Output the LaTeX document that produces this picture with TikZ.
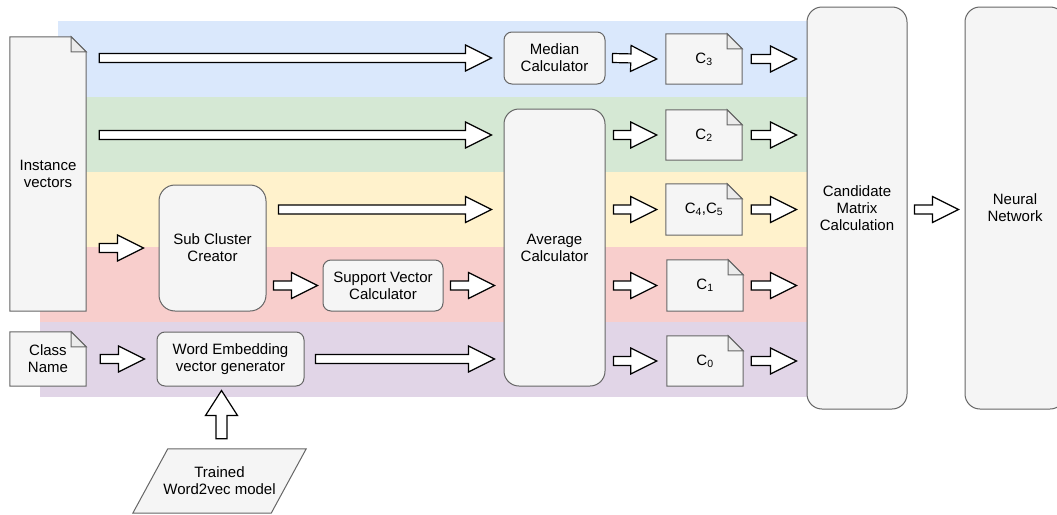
\documentclass[tikz,border=0pt]{standalone}
\usepackage{fontspec}
\setmainfont{Liberation Sans}
\usetikzlibrary{calc}
\definecolor{bandblue}{HTML}{DAE8FC}
\definecolor{bandgreen}{HTML}{D5E8D4}
\definecolor{bandyellow}{HTML}{FFF2CC}
\definecolor{bandred}{HTML}{F8CECC}
\definecolor{bandpurple}{HTML}{E1D5E7}
\definecolor{boxfill}{HTML}{F5F5F5}
\definecolor{boxline}{HTML}{666666}
\definecolor{foldfill}{HTML}{EBEBEB}
\pgfdeclarelayer{bands}
\pgfdeclarelayer{bg}
\pgfsetlayers{bands,bg,main}
\tikzset{
  box/.style={draw=boxline, fill=boxfill, line width=1pt},
  rbox/.style={box, rounded corners=#1},
  txt/.style={inner sep=0pt, align=center},
  flex/.style={draw=black, fill=white, line width=1.2pt, line join=miter},
}
\newcommand\faw{4.5pt}
\newcommand\fah{13pt}
\newcommand\fal{26pt}
\newcommand\farrow[2]{%
  \coordinate (fas) at (#1);
  \coordinate (fae) at (#2);
  \coordinate (fac) at ($(fae)!\fal!(fas)$);
  \filldraw[flex] ($(fas)!\faw!90:(fae)$) -- ($(fac)!\faw!90:(fae)$)
    -- ($(fac)!\fah!90:(fae)$) -- (fae) -- ($(fac)!\fah!-90:(fae)$)
    -- ($(fac)!\faw!-90:(fae)$) -- ($(fas)!\faw!-90:(fae)$) -- cycle;}
\newcommand\docoutline[1]{%
  \begin{pgfonlayer}{bg}
  \filldraw[box] (#1.north west) -- ($(#1.north east)+(-15,0)$)
    -- ($(#1.north east)+(0,15)$) -- (#1.south east) -- (#1.south west) -- cycle;
  \filldraw[box, fill=foldfill] ($(#1.north east)+(-15,0)$) -- ($(#1.north east)+(-15,15)$)
    -- ($(#1.north east)+(0,15)$) -- cycle;
  \end{pgfonlayer}}
\begin{document}
\begin{tikzpicture}[x=1pt, y=-1pt, font=\fontsize{15}{17}\selectfont]
\useasboundingbox (0,0) rectangle (1057,514);
\clip (0,0) rectangle (1057,514);
\begin{pgfonlayer}{bands}
  \fill[white] (0,0) rectangle (1057,514);
  \fill[bandblue]   (58,21)  rectangle (810,97);
  \fill[bandgreen]  (40,97)  rectangle (810,172);
  \fill[bandyellow] (40,172) rectangle (810,247);
  \fill[bandred]    (40,247) rectangle (810,322);
  \fill[bandpurple] (40,322) rectangle (810,397);
\end{pgfonlayer}

% document shapes
\node[txt, minimum width=76pt, minimum height=274pt] (iv) at (48,174) {Instance\\vectors};
\docoutline{iv}
\node[txt, minimum width=76pt, minimum height=54pt] (cn) at (48,359) {Class\\Name};
\docoutline{cn}
\node[txt, minimum width=76pt, minimum height=50pt] (c3) at (704,59) {C\textsubscript{3}};
\docoutline{c3}
\node[txt, minimum width=76pt, minimum height=50pt] (c2) at (704,135) {C\textsubscript{2}};
\docoutline{c2}
\node[txt, minimum width=76pt, minimum height=51pt] (c45) at (704,209.5) {C\textsubscript{4},C\textsubscript{5}};
\docoutline{c45}
\node[txt, minimum width=76pt, minimum height=51pt] (c1) at (705,285.5) {C\textsubscript{1}};
\docoutline{c1}
\node[txt, minimum width=76pt, minimum height=50pt] (c0) at (705,361) {C\textsubscript{0}};
\docoutline{c0}

% rounded boxes
\node[rbox=16pt, txt, minimum width=107pt, minimum height=126pt] (sc) at (212.5,248) {Sub Cluster\\Creator};
\node[rbox=8pt, txt, minimum width=147pt, minimum height=54pt] (we) at (230.5,359) {Word Embedding\\vector generator};
\node[rbox=8pt, txt, minimum width=120pt, minimum height=51pt] (svc) at (383,285.5) {Support Vector\\Calculator};
\node[rbox=8pt, txt, minimum width=101pt, minimum height=52pt] (med) at (554.5,58) {Median\\Calculator};
\node[rbox=15pt, txt, minimum width=101pt, minimum height=277pt] (avg) at (554.5,247.5) {Average\\Calculator};
\node[rbox=15pt, txt, minimum width=100pt, minimum height=402pt] (cmc) at (857,208) {Candidate\\Matrix\\Calculation};
\node[rbox=15pt, txt, minimum width=100pt, minimum height=402pt] (nn) at (1015,208) {Neural\\Network};

% parallelogram
\node[txt, minimum width=173pt, minimum height=64pt] (tw) at (219.5,481) {Trained\\Word2vec model};
\begin{pgfonlayer}{bg}
  \filldraw[box] ($(tw.north west)+(35,0)$) -- (tw.north east)
    -- ($(tw.south east)+(-35,0)$) -- (tw.south west) -- cycle;
\end{pgfonlayer}

% block arrows
\farrow{$(iv.east|-med.center)+(13,0)$}{$(med.west)+(-12,0)$}
\farrow{$(iv.east|-c2.center)+(13,0)$}{$(avg.west|-c2.center)+(-12,0)$}
\farrow{$(sc.east|-c45.center)+(12,0)$}{$(avg.west|-c45.center)+(-12,0)$}
\farrow{$(iv.east|-sc.center)+(13,0)$}{$(sc.west)+(-15,0)$}
\farrow{$(sc.east|-svc.center)+(7,0)$}{$(svc.west)+(-5,0)$}
\farrow{$(svc.east)+(7,0)$}{$(avg.west|-svc.center)+(-9,0)$}
\farrow{$(cn.east)+(14,0)$}{$(we.west)+(-12,0)$}
\farrow{$(we.east)+(11,0)$}{$(avg.west|-we.center)+(-9,0)$}

\farrow{$(med.east)+(7,0)$}{$(c3.west)+(-9,0)$}
\farrow{$(avg.east|-c2.center)+(8,0)$}{$(c2.west)+(-9,0)$}
\farrow{$(avg.east|-c45.center)+(8,0)$}{$(c45.west)+(-9,0)$}
\farrow{$(avg.east|-c1.center)+(8,0)$}{$(c1.west)+(-10,0)$}
\farrow{$(avg.east|-c0.center)+(8,0)$}{$(c0.west)+(-10,0)$}

\farrow{$(c3.east)+(9,0)$}{$(cmc.west|-c3.center)+(-10,0)$}
\farrow{$(c2.east)+(9,0)$}{$(cmc.west|-c2.center)+(-10,0)$}
\farrow{$(c45.east)+(9,0)$}{$(cmc.west|-c45.center)+(-10,0)$}
\farrow{$(c1.east)+(8,0)$}{$(cmc.west|-c1.center)+(-10,0)$}
\farrow{$(c0.east)+(8,0)$}{$(cmc.west|-c0.center)+(-10,0)$}

\farrow{$(cmc.east|-c45.center)+(7,0)$}{$(nn.west|-c45.center)+(-6,0)$}

\renewcommand\faw{5.5pt}
\renewcommand\fah{16pt}
\renewcommand\fal{25pt}
\farrow{$(tw.north)+(2,-10)$}{$(tw.north|-we.south)+(2,4)$}
\end{tikzpicture}
\end{document}
